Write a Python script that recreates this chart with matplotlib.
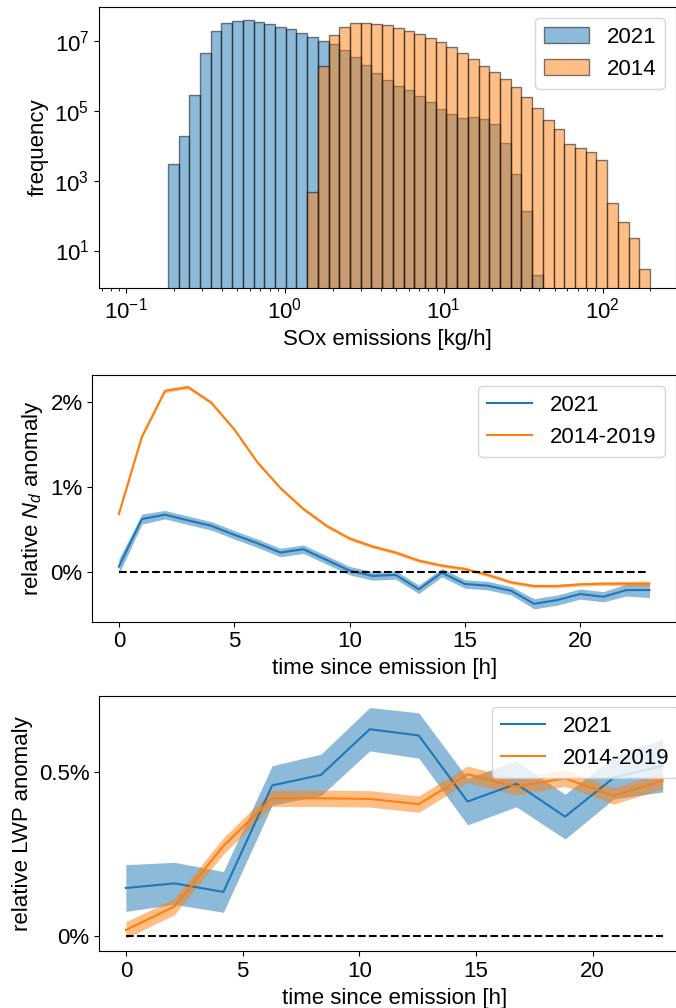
import numpy as np
import matplotlib
matplotlib.use("Agg")
import matplotlib.pyplot as plt
from matplotlib.ticker import FuncFormatter, NullLocator

plt.rcParams['font.family'] = ['Liberation Sans', 'DejaVu Sans']
plt.rcParams['mathtext.fontset'] = 'custom'
plt.rcParams['mathtext.it'] = 'Liberation Sans:italic'
plt.rcParams['mathtext.rm'] = 'Liberation Sans'
FS = 16
plt.rcParams['font.size'] = FS

# ---------------- data ----------------
# histogram: common log-spaced bins (log10 of first/last edge, number of bins)
bin_log_lo, bin_log_hi, n_bins = -0.737, 2.298, 45
# 2021 counts occupy bins 0..34
counts_2021 = [2.93e3, 1.89e4, 2.86e5, 4.54e6, 1.85e7, 3.13e7, 3.72e7, 3.98e7, 3.49e7,
               2.93e7, 2.51e7, 2.11e7, 1.69e7, 1.27e7, 1.0e7, 7.85e6, 5.41e6, 3.49e6,
               2.06e6, 1.17e6, 7.36e5, 5.18e5, 3.98e5, 2.62e5, 1.81e5, 1.12e5, 7.85e4,
               6.04e4, 6.46e4, 5.90e4, 4.16e4, 1.17e4, 1.52e3, 136, 2]
first_bin_2021 = 0
# 2014 counts occupy bins 13..44
counts_2014 = [485, 1.89e6, 1.48e7, 2.51e7, 3.13e7, 3.27e7, 3.06e7, 2.74e7, 2.25e7,
               1.89e7, 1.52e7, 1.19e7, 9.35e6, 6.75e6, 4.45e6, 2.93e6, 1.93e6, 1.27e6,
               8.2e5, 4.74e5, 2.51e5, 1.22e5, 5.53e4, 2.93e4, 1.14e4, 8.57e3, 6.75e3,
               3.81e3, 235, 65, 23, 3]
first_bin_2014 = 13

# Nd anomaly [%] vs hours since emission
hours_nd = list(range(24))
nd_2021 = [0.059, 0.619, 0.671, 0.604, 0.540, 0.434, 0.335, 0.225, 0.264, 0.138, 0.012,
           -0.051, -0.039, -0.209, -0.012, -0.146, -0.166, -0.225, -0.379, -0.335,
           -0.264, -0.296, -0.217, -0.217]
nd_2021_ci = [0.09, 0.06, 0.05, 0.05, 0.05, 0.05, 0.05, 0.05, 0.05, 0.05, 0.05, 0.05,
              0.05, 0.05, 0.05, 0.05, 0.05, 0.05, 0.06, 0.06, 0.06, 0.06, 0.07, 0.09]
nd_2014 = [0.678, 1.590, 2.130, 2.174, 1.992, 1.677, 1.290, 0.986, 0.738, 0.540, 0.391,
           0.296, 0.225, 0.130, 0.071, 0.032, -0.039, -0.126, -0.170, -0.170, -0.150,
           -0.142, -0.142, -0.142]
nd_2014_ci = [0.02] * 22 + [0.025, 0.03]

# LWP anomaly [%]
hours_lwp = [0.0, 2.09, 4.18, 6.27, 8.36, 10.45, 12.55, 14.64, 16.73, 18.82, 20.91, 23.0]
lwp_2021 = [0.147, 0.161, 0.135, 0.459, 0.491, 0.630, 0.611, 0.410, 0.464, 0.364, 0.483, 0.519]
lwp_2021_ci = [0.071, 0.064, 0.062, 0.060, 0.063, 0.066, 0.069, 0.071, 0.070, 0.068, 0.065, 0.08]
lwp_2014 = [0.019, 0.091, 0.275, 0.420, 0.420, 0.418, 0.402, 0.493, 0.455, 0.481, 0.427, 0.474]
lwp_2014_ci = [0.025] * 12

labels_hist = ["2021", "2014"]
labels_lines = ["2021", "2014-2019"]

# ---------------- figure ----------------
W, H = 676, 1008
fig = plt.figure(figsize=(W / 100, H / 100), dpi=100)

def box(l, r, t, b):
    return [l / W, 1 - b / H, (r - l) / W, (b - t) / H]

ax1 = fig.add_axes(box(99, 676, 6.7, 287.5))
ax2 = fig.add_axes(box(92.3, 676, 374.7, 621.7))
ax3 = fig.add_axes(box(99, 689.5, 695.7, 951.3))

# --- histogram ---
edges = np.logspace(bin_log_lo, bin_log_hi, n_bins + 1)
e21 = edges[first_bin_2021:first_bin_2021 + len(counts_2021) + 1]
e14 = edges[first_bin_2014:first_bin_2014 + len(counts_2014) + 1]
c21 = np.sqrt(e21[:-1] * e21[1:])
c14 = np.sqrt(e14[:-1] * e14[1:])
ax1.set_xscale('log')
ax1.set_yscale('log')
ax1.hist(c21, bins=e21, weights=counts_2021, alpha=0.5, color='C0', edgecolor='k', label=labels_hist[0])
ax1.hist(c14, bins=e14, weights=counts_2014, alpha=0.5, color='C1', edgecolor='k', label=labels_hist[1])
ax1.set_xlim(10 ** -1.171, 10 ** 2.462)
ax1.set_ylim(10 ** -0.057, 10 ** 7.971)
ax1.set_yticks([1e1, 1e3, 1e5, 1e7])
ax1.yaxis.set_minor_locator(NullLocator())
ax1.set_xlabel("SOx emissions [kg/h]")
ax1.set_ylabel("frequency")
ax1.legend(loc='upper right', fontsize=FS)

pct = FuncFormatter(lambda v, p: f"{v:g}%")

# --- Nd anomaly ---
for vals, ci, col, lab in [(nd_2021, nd_2021_ci, 'C0', labels_lines[0]),
                           (nd_2014, nd_2014_ci, 'C1', labels_lines[1])]:
    v = np.array(vals); c = np.array(ci)
    ax2.plot(hours_nd, v, color=col, label=lab)
    ax2.fill_between(hours_nd, v - c, v + c, color=col, alpha=0.5, linewidth=0)
ax2.hlines(0, hours_nd[0], hours_nd[-1], colors='k', linestyles='--')
ax2.set_xlim(-1.15, 24.15)
ax2.set_ylim(-0.59, 2.32)
ax2.set_yticks([0, 1, 2])
ax2.set_xticks([0, 5, 10, 15, 20])
ax2.yaxis.set_major_formatter(pct)
ax2.set_xlabel("time since emission [h]")
ax2.set_ylabel("relative $N_d$ anomaly")
ax2.legend(loc='upper right', fontsize=FS)

# --- LWP anomaly ---
for vals, ci, col, lab in [(lwp_2021, lwp_2021_ci, 'C0', labels_lines[0]),
                           (lwp_2014, lwp_2014_ci, 'C1', labels_lines[1])]:
    v = np.array(vals); c = np.array(ci)
    ax3.plot(hours_lwp, v, color=col, label=lab)
    ax3.fill_between(hours_lwp, v - c, v + c, color=col, alpha=0.5, linewidth=0)
ax3.hlines(0, hours_lwp[0], hours_lwp[-1], colors='k', linestyles='--')
ax3.set_xlim(-1.15, 24.15)
ax3.set_ylim(-0.0456, 0.732)
ax3.set_yticks([0, 0.5])
ax3.set_xticks([0, 5, 10, 15, 20])
ax3.yaxis.set_major_formatter(pct)
ax3.set_xlabel("time since emission [h]")
ax3.set_ylabel("relative LWP anomaly")
ax3.legend(loc='upper right', fontsize=FS)

fig.savefig("out.png", dpi=100)
